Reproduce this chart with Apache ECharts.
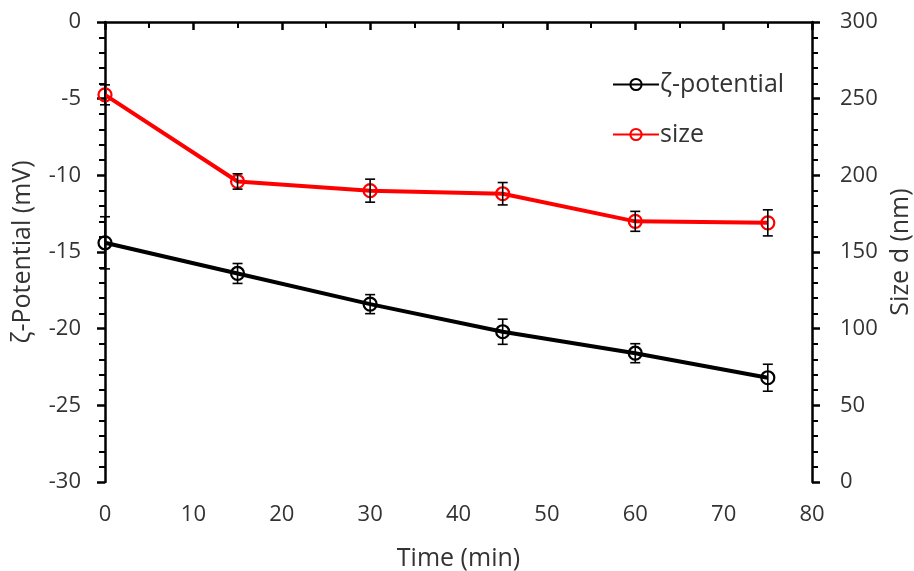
<!DOCTYPE html>
<html>
<head>
<meta charset="utf-8">
<script src="https://cdn.jsdelivr.net/npm/echarts@6/dist/echarts.min.js"></script>
<style>
html,body{margin:0;padding:0;background:#fff;}
#c{width:914px;height:571px;}
</style>
</head>
<body>
<div id="c"></div>
<script>
// Data
const times = [0, 15, 30, 45, 60, 75];
const zeta = [-14.4, -16.4, -18.4, -20.2, -21.6, -23.2];
const zetaErr = [1.7, 0.65, 0.62, 0.82, 0.62, 0.88];
const sizeVals = [252.5, 196, 190, 188, 170, 169];
const sizeErr = [6.5, 5, 7.5, 7.3, 6.5, 8.5];
const xTicks = [0, 10, 20, 30, 40, 50, 60, 70, 80];
const leftTicks = [-30, -25, -20, -15, -10, -5, 0];
const rightTicks = [0, 50, 100, 150, 200, 250, 300];

const FONT = '"Open Sans", sans-serif';
const TXT = '#333333';

function errData(vals, errs) {
  return times.map((t, i) => [t, vals[i] - errs[i], vals[i] + errs[i]]);
}
function errRender(color) {
  return function (params, api) {
    const x = api.value(0);
    const lo = api.coord([x, api.value(1)]);
    const hi = api.coord([x, api.value(2)]);
    const w = 5;
    const st = { stroke: color, lineWidth: 1.6 };
    return {
      type: 'group',
      children: [
        { type: 'line', shape: { x1: lo[0], y1: lo[1], x2: hi[0], y2: hi[1] }, style: st },
        { type: 'line', shape: { x1: lo[0] - w, y1: lo[1], x2: lo[0] + w, y2: lo[1] }, style: st },
        { type: 'line', shape: { x1: hi[0] - w, y1: hi[1], x2: hi[0] + w, y2: hi[1] }, style: st }
      ]
    };
  };
}

const axisCommon = {
  axisLine: { show: true, lineStyle: { color: '#000', width: 2.5 } },
  axisTick: { show: true, inside: false, length: 8, lineStyle: { color: '#000', width: 2.5 } },
  splitLine: { show: false },
  nameTextStyle: { color: TXT, fontSize: 25, fontFamily: FONT }
};
const labelStyle = (m) => ({ color: TXT, fontSize: 22, fontFamily: FONT, margin: m });
const minor = (n) => ({ show: true, splitNumber: n, length: 6, lineStyle: { color: '#000', width: 2 } });

const chart = echarts.init(document.getElementById('c'));
chart.setOption({
  animation: false,
  backgroundColor: '#fff',
  grid: { left: 105, right: 102, top: 22, bottom: 89, outerBoundsMode: 'none', containLabel: false },
  legend: {
    orient: 'vertical',
    left: 607,
    top: 67,
    itemGap: 25,
    itemWidth: 46,
    itemHeight: 14,
    textStyle: { color: TXT, fontSize: 25, fontFamily: FONT, padding: [0, 0, 0, -4] },
    data: [
      { name: 'ζ-potential' },
      { name: 'size' }
    ]
  },
  xAxis: Object.assign({}, axisCommon, {
    type: 'value', min: xTicks[0], max: xTicks[xTicks.length - 1], interval: 10,
    minorTick: minor(2),
    name: 'Time (min)', nameLocation: 'middle', nameGap: 64,
    axisLabel: labelStyle(22)
  }),
  yAxis: [
    Object.assign({}, axisCommon, {
      type: 'value', position: 'left', min: leftTicks[0], max: leftTicks[leftTicks.length - 1], interval: 5,
      minorTick: minor(5),
      name: 'ζ-Potential (mV)', nameLocation: 'middle', nameGap: 70, nameRotate: 90,
      axisLabel: labelStyle(24)
    }),
    Object.assign({}, axisCommon, {
      type: 'value', position: 'right', min: rightTicks[0], max: rightTicks[rightTicks.length - 1], interval: 50,
      minorTick: minor(5),
      name: 'Size d (nm)', nameLocation: 'middle', nameGap: 65, nameRotate: 90,
      axisLabel: labelStyle(28)
    })
  ],
  series: [
    {
      name: 'ζ-potential', type: 'line', yAxisIndex: 0,
      data: times.map((t, i) => [t, zeta[i]]),
      symbol: 'circle', symbolSize: 13,
      lineStyle: { color: '#000', width: 4 },
      itemStyle: { color: 'rgba(0,0,0,0)', borderColor: '#000', borderWidth: 2.2 },
      z: 3
    },
    {
      name: 'size', type: 'line', yAxisIndex: 1,
      data: times.map((t, i) => [t, sizeVals[i]]),
      symbol: 'circle', symbolSize: 13,
      lineStyle: { color: '#ff0000', width: 4 },
      itemStyle: { color: 'rgba(0,0,0,0)', borderColor: '#ff0000', borderWidth: 2.2 },
      z: 3
    },
    {
      name: 'zetaErr', type: 'custom', yAxisIndex: 0,
      data: errData(zeta, zetaErr), renderItem: errRender('#000'),
      encode: { x: 0, y: [1, 2] }, z: 4, silent: true
    },
    {
      name: 'sizeErr', type: 'custom', yAxisIndex: 1,
      data: errData(sizeVals, sizeErr), renderItem: errRender('#000'),
      encode: { x: 0, y: [1, 2] }, z: 4, silent: true
    }
  ]
});
</script>
</body>
</html>
